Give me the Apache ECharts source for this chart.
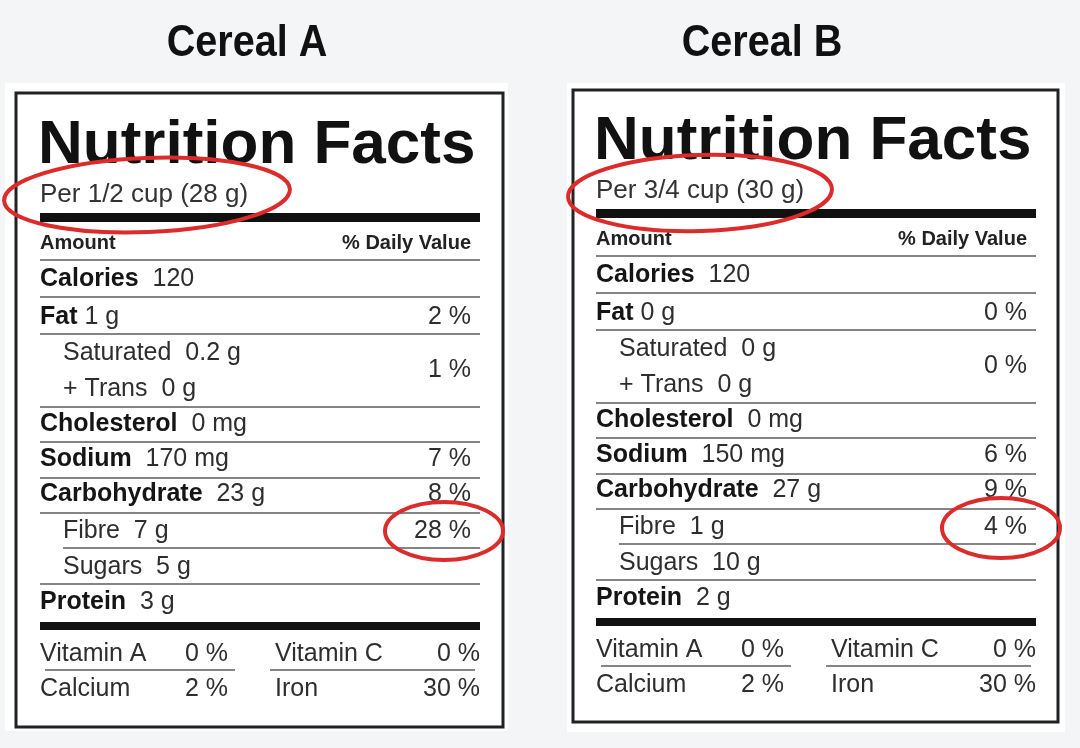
<!DOCTYPE html>
<html>
<head>
<meta charset="utf-8">
<script src="https://cdn.jsdelivr.net/npm/echarts@6/dist/echarts.min.js"></script>
<style>
html,body{margin:0;padding:0;background:#f4f5f7;}
#chart{width:1080px;height:748px;}
</style>
</head>
<body>
<div id="chart"></div>
<script>
// ---------- data ----------
const cereals = ['Cereal A', 'Cereal B'];
const headerTitle = 'Nutrition Facts';
const servings = ['Per 1/2 cup (28 g)', 'Per 3/4 cup (30 g)'];
const columnHeads = ['Amount', '% Daily Value'];
const rowLabels = ['Calories', 'Fat', 'Saturated', '+ Trans', 'Cholesterol', 'Sodium', 'Carbohydrate', 'Fibre', 'Sugars', 'Protein'];
const amountsA = ['120', '1 g', '0.2 g', '0 g', '0 mg', '170 mg', '23 g', '7 g', '5 g', '3 g'];
const amountsB = ['120', '0 g', '0 g', '0 g', '0 mg', '150 mg', '27 g', '1 g', '10 g', '2 g'];
const dailyA = ['', '2 %', '1 %', '', '', '7 %', '8 %', '28 %', '', ''];
const dailyB = ['', '0 %', '0 %', '', '', '6 %', '9 %', '4 %', '', ''];
const vitaminLabels = ['Vitamin A', 'Vitamin C', 'Calcium', 'Iron'];
const vitaminsA = ['0 %', '0 %', '2 %', '30 %'];
const vitaminsB = ['0 %', '0 %', '2 %', '30 %'];

// ---------- layout (positions & styles) ----------
const FONT = "'Liberation Sans', Arial, Helvetica, sans-serif";
const RED = '#dc2b2b';
const rowBaselines = [287, 325, 361, 397, 432, 467, 502, 539, 575, 610];
const rowBold = [true, true, false, false, true, true, true, false, false, true];
const rowGap = [2, 1, 2, 2, 2, 2, 2, 2, 2, 2];
const dailyBaselineOverride = {2: 378};
const thinLines = [[260, 40], [297, 40], [334, 40], [407, 40], [442, 40], [478, 40], [513, 40], [548, 63], [584, 40]];
const panels = [
  {dx: 0, dy: 0, amounts: amountsA, daily: dailyA, vit: vitaminsA, serving: servings[0], title: cereals[0], titleX: 247,
   white: [5, 83, 503, 648], box: [16, 93, 487, 634],
   ellipses: [[147, 195, 143, 37, 0.04], [444, 531, 59, 29, 0]]},
  {dx: 556, dy: -4, amounts: amountsB, daily: dailyB, vit: vitaminsB, serving: servings[1], title: cereals[1], titleX: 762,
   white: [567, 83, 498, 649], box: [573, 90, 485, 632],
   ellipses: [[700, 193, 132, 38, 0.03], [1001, 528, 59, 30, 0]]}
];

function txt(x, baseline, text, size, opts) {
  opts = opts || {};
  return {
    type: 'text', silent: true,
    x: x, y: baseline - 0.31 * size,
    scaleX: opts.scaleX || 1,
    style: {
      text: text, x: 0, y: 0,
      font: (opts.bold ? 'bold ' : '') + size + 'px ' + FONT,
      fill: opts.fill || '#1a1a1a',
      align: opts.align || 'left',
      verticalAlign: 'middle',
      rich: opts.rich
    }
  };
}

const elements = [];
panels.forEach(function (p) {
  const X = function (x) { return x + p.dx; };
  const Y = function (y) { return y + p.dy; };
  elements.push({type: 'rect', silent: true, shape: {x: p.white[0], y: p.white[1], width: p.white[2], height: p.white[3]}, style: {fill: '#ffffff'}});
  elements.push({type: 'rect', silent: true, shape: {x: p.box[0], y: p.box[1], width: p.box[2], height: p.box[3]}, style: {fill: 'none', stroke: '#222', lineWidth: 3}});
  elements.push(txt(p.titleX, 58, p.title, 45, {bold: true, align: 'center', scaleX: 0.88, fill: '#111'}));
  elements.push(txt(X(38), Y(165), headerTitle, 62, {bold: true, fill: '#111'}));
  elements.push(txt(X(40), Y(203), p.serving, 26, {fill: '#333'}));
  elements.push({type: 'line', silent: true, shape: {x1: X(40), y1: Y(217.5), x2: X(480), y2: Y(217.5)}, style: {stroke: '#111', lineWidth: 9}});
  elements.push({type: 'line', silent: true, shape: {x1: X(40), y1: Y(626), x2: X(480), y2: Y(626)}, style: {stroke: '#111', lineWidth: 8}});
  elements.push(txt(X(40), Y(250), columnHeads[0], 20, {bold: true, fill: '#222'}));
  elements.push(txt(X(471), Y(250), columnHeads[1], 20, {bold: true, fill: '#222', align: 'right'}));
  thinLines.forEach(function (l) {
    elements.push({type: 'line', silent: true, shape: {x1: X(l[1]), y1: Y(l[0]), x2: X(480), y2: Y(l[0])}, style: {stroke: '#858585', lineWidth: 2}});
  });
  rowLabels.forEach(function (lab, i) {
    const indent = rowBold[i] ? 40 : 63;
    const gap = rowGap[i] === 2 ? '  ' : ' ';
    const labStyle = rowBold[i] ? 'b' : 'r';
    const rich = {
      b: {font: 'bold 25px ' + FONT, fill: '#151515'},
      r: {font: '25px ' + FONT, fill: '#2e2e2e'}
    };
    elements.push(txt(X(indent), Y(rowBaselines[i]), '{' + labStyle + '|' + lab + '}{r|' + gap + p.amounts[i] + '}', 25, {rich: rich}));
    if (p.daily[i]) {
      const bl = dailyBaselineOverride[i] || rowBaselines[i];
      elements.push(txt(X(471), Y(bl), p.daily[i], 25, {align: 'right', fill: '#2e2e2e'}));
    }
  });
  const vx = [[40, 228], [275, 480]];
  const vb = [662, 697];
  vitaminLabels.forEach(function (lab, i) {
    const col = i % 2, row = Math.floor(i / 2);
    elements.push(txt(X(vx[col][0]), Y(vb[row]), lab, 25, {fill: '#2e2e2e'}));
    elements.push(txt(X(vx[col][1]), Y(vb[row]), p.vit[i], 25, {fill: '#2e2e2e', align: 'right'}));
  });
  elements.push({type: 'line', silent: true, shape: {x1: X(45), y1: Y(670), x2: X(235), y2: Y(670)}, style: {stroke: '#858585', lineWidth: 2}});
  elements.push({type: 'line', silent: true, shape: {x1: X(270), y1: Y(670), x2: X(475), y2: Y(670)}, style: {stroke: '#858585', lineWidth: 2}});
  p.ellipses.forEach(function (e) {
    elements.push({type: 'ellipse', silent: true, x: e[0], y: e[1], rotation: e[4], shape: {cx: 0, cy: 0, rx: e[2], ry: e[3]}, style: {fill: 'none', stroke: RED, lineWidth: 4}, z: 10});
  });
});

const chart = echarts.init(document.getElementById('chart'), null, {renderer: 'canvas'});
chart.setOption({
  backgroundColor: '#f4f5f7',
  animation: false,
  graphic: {elements: elements}
});
</script>
</body>
</html>
